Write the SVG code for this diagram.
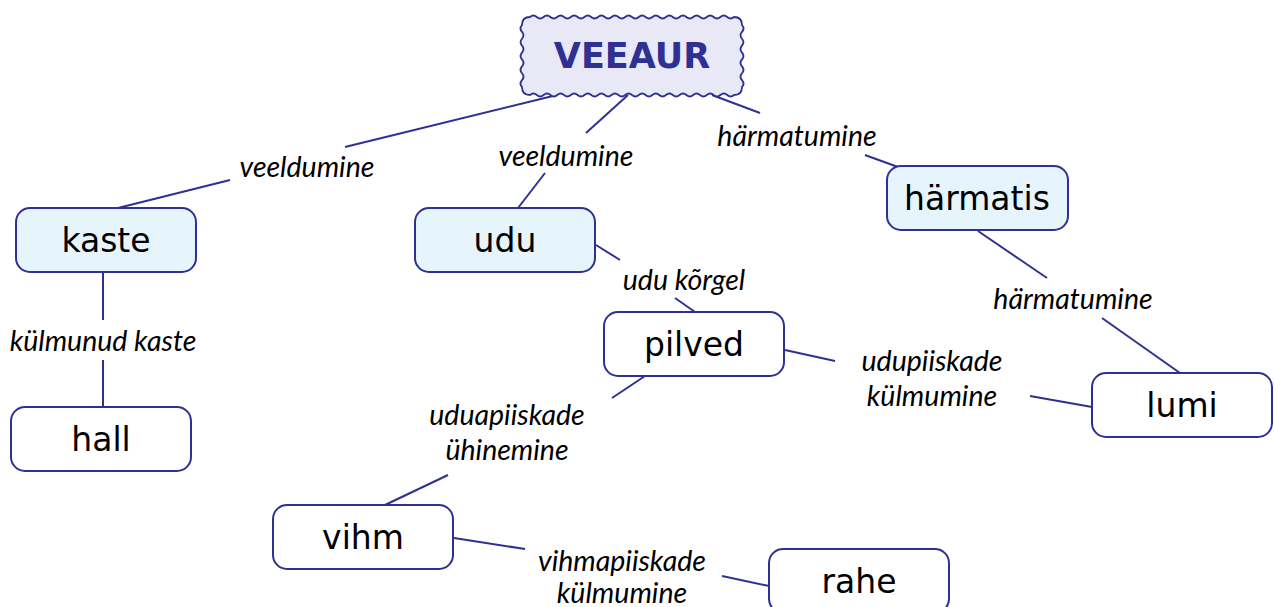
<svg xmlns="http://www.w3.org/2000/svg" width="1274" height="607" viewBox="0 0 1274 607">
<style>
.node rect{stroke:#2e3192;stroke-width:2;}
.blue{fill:#e6f4fc;}
.white{fill:#ffffff;}
.nt{font-family:"DejaVu Sans",sans-serif;font-size:33px;fill:#000;text-anchor:middle;}
.lbl{font-family:Lato,"Open Sans",sans-serif;font-style:italic;font-size:28.5px;fill:#000;text-anchor:middle;}
#connectors line{stroke:#2e3192;stroke-width:2;fill:none;}
</style>
<rect width="1274" height="607" fill="#ffffff"/>
<g id="connectors">
<line x1="557" y1="95" x2="345" y2="147"/>
<line x1="230" y1="180" x2="118" y2="208"/>
<line x1="628" y1="95" x2="586" y2="133"/>
<line x1="545" y1="173" x2="518" y2="208"/>
<line x1="712" y1="95" x2="760" y2="113"/>
<line x1="865" y1="155" x2="898" y2="167"/>
<line x1="103" y1="272" x2="103" y2="320"/>
<line x1="103" y1="360" x2="103" y2="407"/>
<line x1="596" y1="245" x2="620" y2="260"/>
<line x1="675" y1="298" x2="695" y2="312"/>
<line x1="978" y1="231" x2="1047" y2="278"/>
<line x1="1102" y1="318" x2="1180" y2="373"/>
<line x1="645" y1="376" x2="612" y2="398"/>
<line x1="448" y1="475" x2="385" y2="505"/>
<line x1="785" y1="350" x2="835" y2="361"/>
<line x1="1030" y1="396" x2="1092" y2="407"/>
<line x1="454" y1="538" x2="525" y2="549"/>
<line x1="722" y1="576" x2="769" y2="586"/>
</g>
<g id="labels">
<text class="lbl" x="307" y="177">veeldumine</text>
<text class="lbl" x="566" y="166">veeldumine</text>
<text class="lbl" x="797" y="146">härmatumine</text>
<text class="lbl" x="103" y="351">külmunud kaste</text>
<text class="lbl" x="684" y="290">udu kõrgel</text>
<text class="lbl" x="1073" y="309">härmatumine</text>
<text class="lbl" x="507" y="425">uduapiiskade</text>
<text class="lbl" x="507" y="460">ühinemine</text>
<text class="lbl" x="932" y="371">udupiiskade</text>
<text class="lbl" x="932" y="406">külmumine</text>
<text class="lbl" x="622" y="571">vihmapiiskade</text>
<text class="lbl" x="622" y="603">külmumine</text>
</g>
<g id="veeaur">
<path d="M530,17 q3.4,-3 6.8,0 t6.8,0 t6.8,0 t6.8,0 t6.8,0 t6.8,0 t6.8,0 t6.8,0 t6.8,0 t6.8,0 t6.8,0 t6.8,0 t6.8,0 t6.8,0 t6.8,0 t6.8,0 t6.8,0 t6.8,0 t6.8,0 t6.8,0 t6.8,0 t6.8,0 t6.8,0 t6.8,0 t6.8,0 t6.8,0 t6.8,0 t6.8,0 t6.8,0 t6.8,0 Q742,17 742,25 q3,3.444 0,6.889 t0,6.889 t0,6.889 t0,6.889 t0,6.889 t0,6.889 t0,6.889 t0,6.889 t0,6.889 Q742,95 734,95 q-3.4,3 -6.8,0 t-6.8,0 t-6.8,0 t-6.8,0 t-6.8,0 t-6.8,0 t-6.8,0 t-6.8,0 t-6.8,0 t-6.8,0 t-6.8,0 t-6.8,0 t-6.8,0 t-6.8,0 t-6.8,0 t-6.8,0 t-6.8,0 t-6.8,0 t-6.8,0 t-6.8,0 t-6.8,0 t-6.8,0 t-6.8,0 t-6.8,0 t-6.8,0 t-6.8,0 t-6.8,0 t-6.8,0 t-6.8,0 t-6.8,0 Q522,95 522,87 q-3,-3.444 0,-6.889 t0,-6.889 t0,-6.889 t0,-6.889 t0,-6.889 t0,-6.889 t0,-6.889 t0,-6.889 t0,-6.889 Q522,17 530,17 Z" fill="#e9e8f6" stroke="#2e3192" stroke-width="1.8"/>
<text x="632" y="68" font-family="DejaVu Sans,sans-serif" font-weight="bold" font-size="35" fill="#2e3192" text-anchor="middle">VEEAUR</text>
</g>
<g id="kaste" class="node"><rect class="blue" x="16" y="208" width="180" height="64" rx="14"/><text class="nt" x="106" y="252">kaste</text></g>
<g id="hall" class="node"><rect class="white" x="11" y="407" width="180" height="64" rx="14"/><text class="nt" x="101" y="451">hall</text></g>
<g id="udu" class="node"><rect class="blue" x="415" y="208" width="180" height="64" rx="14"/><text class="nt" x="505" y="252">udu</text></g>
<g id="harmatis" class="node"><rect class="blue" x="887" y="166" width="181" height="64" rx="14"/><text class="nt" x="977" y="210">härmatis</text></g>
<g id="pilved" class="node"><rect class="white" x="604" y="312" width="180" height="64" rx="14"/><text class="nt" x="694" y="356">pilved</text></g>
<g id="lumi" class="node"><rect class="white" x="1092" y="373" width="180" height="64" rx="14"/><text class="nt" x="1182" y="417">lumi</text></g>
<g id="vihm" class="node"><rect class="white" x="273" y="505" width="180" height="64" rx="14"/><text class="nt" x="363" y="549">vihm</text></g>
<g id="rahe" class="node"><rect class="white" x="769" y="549" width="180" height="64" rx="14"/><text class="nt" x="859" y="593">rahe</text></g>
</svg>
